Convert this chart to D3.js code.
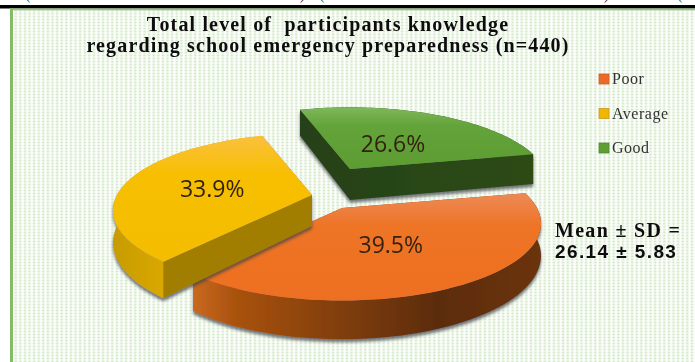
<!DOCTYPE html>
<html>
<head>
<meta charset="utf-8">
<script src="https://cdn.jsdelivr.net/npm/d3@7"></script>
<style>
html,body{margin:0;padding:0;background:#fff;overflow:hidden}
svg{display:block}
</style>
</head>
<body>
<script>
// Knowledge levels and their shares of the 440 participants
const categories = ["Poor", "Average", "Good"];
const shares = [39.5, 33.9, 26.6];
const shareLabels = ["39.5%", "33.9%", "26.6%"];
const titleLines = ["Total level of  participants knowledge", "regarding school emergency preparedness (n=440)"];
const summaryLines = ["Mean ± SD =", "26.14 ± 5.83"];

const width = 695, height = 362;
const rad = d => d * Math.PI / 180;

// Tilted-disc projection
const rx = 195, ry = 74, persp = 0.2, depth = 31;
const hubs = [[342, 208], [312, 195], [350, 169]];
const labelNudge = [[-6, 2], [-6, 1], [-2, 4]];
const topFill = [["#ee8a56", "#ee7426", "#ee6f1f"], ["#fbc03e", "#f7bf02", "#f5bd00"], ["#7fb75a", "#64a33a", "#5c9c32"]];
const wallStops = [
  [[0, "#c9691f"], [0.12, "#a9520f"], [0.45, "#7d3c0c"], [0.7, "#5c2c0a"], [1, "#6b3410"]],
  [[0, "#c79c00"], [0.5, "#e2ad00"], [1, "#f5ba00"]],
  [[0, "#2c4a18"], [1, "#2c4a18"]]
];
const cutFill = [["#8a4512", "#8a4512"], ["#a27e00", "#a27e00"], ["#25411a", "#2d4b17"]];

const svg = d3.select("body").append("svg").attr("width", width).attr("height", height);
const defs = svg.append("defs");

const dots = defs.append("pattern").attr("id", "dots").attr("patternUnits", "userSpaceOnUse")
  .attr("width", 4.6).attr("height", 3);
dots.append("rect").attr("width", 4.6).attr("height", 3).attr("fill", "#fff");
dots.append("rect").attr("x", 0.6).attr("y", 0.5).attr("width", 2.6).attr("height", 2).attr("fill", "#d5e9ca");

defs.append("filter").attr("id", "soft").append("feGaussianBlur").attr("stdDeviation", 0.45);
const castShadow = defs.append("filter").attr("id", "cast")
  .attr("x", "-10%").attr("y", "-10%").attr("width", "120%").attr("height", "125%");
castShadow.append("feDropShadow").attr("dx", 0).attr("dy", 3).attr("stdDeviation", 1.5)
  .attr("flood-color", "#3a3f45").attr("flood-opacity", 0.7);

// Page surround: heavy rule, clipped text fragments above it, and the green panel
svg.append("rect").attr("width", width).attr("height", height).attr("fill", "#fff");
svg.append("rect").attr("x", 10).attr("y", 9).attr("width", width - 10).attr("height", height - 9).attr("fill", "url(#dots)");
svg.append("rect").attr("x", 0).attr("y", 5).attr("width", width).attr("height", 3.5).attr("fill", "#000");
svg.append("rect").attr("x", 10).attr("y", 8.5).attr("width", width - 10).attr("height", 1.8).attr("fill", "#93c47d");
svg.append("rect").attr("x", 10).attr("y", 8.5).attr("width", 3).attr("height", height).attr("fill", "#84bb68");
svg.selectAll("text.fragment").data([[26, "("], [300, ")"], [320, "("], [604, ")"], [678, "("]]).join("text")
  .attr("class", "fragment").attr("x", d => d[0]).attr("y", 0)
  .attr("font-family", "Liberation Serif").attr("font-size", 13).attr("fill", "#222").text(d => d[1]);

const pie = d3.pie().sort(null).value(d => d).startAngle(rad(78)).endAngle(rad(78 + 360));
const slices = pie(shares);

// Map an angle and radius fraction on the disc to page coordinates
function project(hub, angle, r, drop) {
  const X = r * Math.sin(angle), Y = -r * Math.cos(angle);
  const s = 1 / (1 - persp * Y);
  return [hub[0] + rx * X * s, hub[1] + ry * Y * s + (drop ? depth * s : 0)];
}
const line = d3.line();
const arcPoints = (hub, a0, a1, drop) => d3.range(0, 61).map(i => project(hub, a0 + (a1 - a0) * i / 60, 1, drop));

const chart = svg.append("g").attr("filter", "url(#soft)");

slices.forEach((d, i) => {
  const hub = hubs[i], a0 = d.startAngle, a1 = d.endAngle;
  const g = chart.append("g").attr("class", "slice").attr("filter", "url(#cast)");
  const rim = arcPoints(hub, a0, a1, false);
  const rimLow = arcPoints(hub, a0, a1, true);
  const xs = d3.extent(rim, p => p[0]), ys = d3.extent(rim.concat([hub]), p => p[1]);

  const wallId = "wall" + i;
  const wall = defs.append("linearGradient").attr("id", wallId).attr("gradientUnits", "userSpaceOnUse")
    .attr("x1", xs[0]).attr("x2", xs[1]).attr("y1", 0).attr("y2", 0);
  wallStops[i].forEach(s => wall.append("stop").attr("offset", s[0]).attr("stop-color", s[1]));

  const cutId = "cut" + i;
  const cut = defs.append("linearGradient").attr("id", cutId).attr("gradientUnits", "userSpaceOnUse")
    .attr("x1", xs[0]).attr("x2", xs[1]).attr("y1", 0).attr("y2", 0);
  cutFill[i].forEach((c, k) => cut.append("stop").attr("offset", k).attr("stop-color", c));

  const topId = "top" + i;
  const top = defs.append("linearGradient").attr("id", topId).attr("gradientUnits", "userSpaceOnUse")
    .attr("x1", 0).attr("x2", 0).attr("y1", ys[0]).attr("y2", ys[1]);
  topFill[i].forEach((c, k) => top.append("stop").attr("offset", [0, 0.3, 1][k]).attr("stop-color", c));

  // Side walls, farthest first so nearer ones paint over them
  const hubLow = [hub[0], hub[1] + depth];
  const walls = [
    { pts: [hub, rim[0], rimLow[0], hubLow], fill: `url(#${cutId})`, y: Math.cos(a0) * -0.5 },
    { pts: [hub, rim[60], rimLow[60], hubLow], fill: `url(#${cutId})`, y: Math.cos(a1) * -0.5 },
    { pts: rim.concat(rimLow.slice().reverse()), fill: `url(#${wallId})`, y: d3.mean(d3.range(0, 61), k => -Math.cos(a0 + (a1 - a0) * k / 60)) }
  ].sort((p, q) => p.y - q.y);
  g.selectAll("path.wall").data(walls).join("path").attr("class", "wall")
    .attr("d", w => line(w.pts) + "Z").attr("fill", w => w.fill);

  g.append("path").attr("class", "top").attr("d", line([hub].concat(rim)) + "Z").attr("fill", `url(#${topId})`);
});

// Share labels sit halfway out along each slice's middle angle
svg.selectAll("text.share").data(slices).join("text").attr("class", "share")
  .attr("x", (d, i) => project(hubs[i], (d.startAngle + d.endAngle) / 2, 0.5)[0] + labelNudge[i][0])
  .attr("y", (d, i) => project(hubs[i], (d.startAngle + d.endAngle) / 2, 0.5)[1] + labelNudge[i][1])
  .attr("dy", "0.36em").attr("text-anchor", "middle")
  .attr("font-family", "Open Sans").attr("font-size", 23).attr("fill", "#33240f").attr("filter", "url(#soft)")
  .text((d, i) => shareLabels[i]);

// Title
svg.append("g").attr("filter", "url(#soft)").selectAll("text").data(titleLines).join("text")
  .attr("x", 328).attr("y", (d, i) => 31 + i * 21).attr("text-anchor", "middle").attr("xml:space", "preserve")
  .style("white-space", "pre").attr("font-family", "Liberation Serif").attr("font-weight", "bold")
  .attr("font-size", 20).attr("letter-spacing", 1.15).attr("fill", "#111").text(d => d);

// Legend
const legendColors = ["#ec6b25", "#f3b600", "#5f9e36"];
const legendEdges = ["#c4602a", "#c79a20", "#4d8a2e"];
const legendY = d3.scalePoint().domain(categories).range([79, 148]);
const legend = svg.append("g").attr("filter", "url(#soft)").selectAll("g").data(categories).join("g")
  .attr("transform", d => `translate(599,${legendY(d)})`);
legend.append("rect").attr("x", 0).attr("y", -5).attr("width", 10).attr("height", 10)
  .attr("fill", (d, i) => legendColors[i]).attr("stroke", (d, i) => legendEdges[i]).attr("stroke-width", 0.8);
legend.append("text").attr("x", 13).attr("dy", "0.33em")
  .attr("font-family", "Liberation Serif").attr("font-size", 16)
  .attr("letter-spacing", 0.5).attr("fill", "#333").text(d => d);

// Mean and standard deviation note
const note = svg.append("g").attr("filter", "url(#soft)");
note.append("text").attr("x", 555).attr("y", 237).attr("font-family", "Liberation Serif").attr("font-weight", "bold")
  .attr("font-size", 20).attr("letter-spacing", 1.3).attr("fill", "#111").text(summaryLines[0]);
note.append("text").attr("x", 555).attr("y", 258).attr("font-family", "Liberation Sans").attr("font-weight", "bold")
  .attr("font-size", 19).attr("letter-spacing", 1.4).attr("fill", "#111").text(summaryLines[1]);
</script>
</body>
</html>
